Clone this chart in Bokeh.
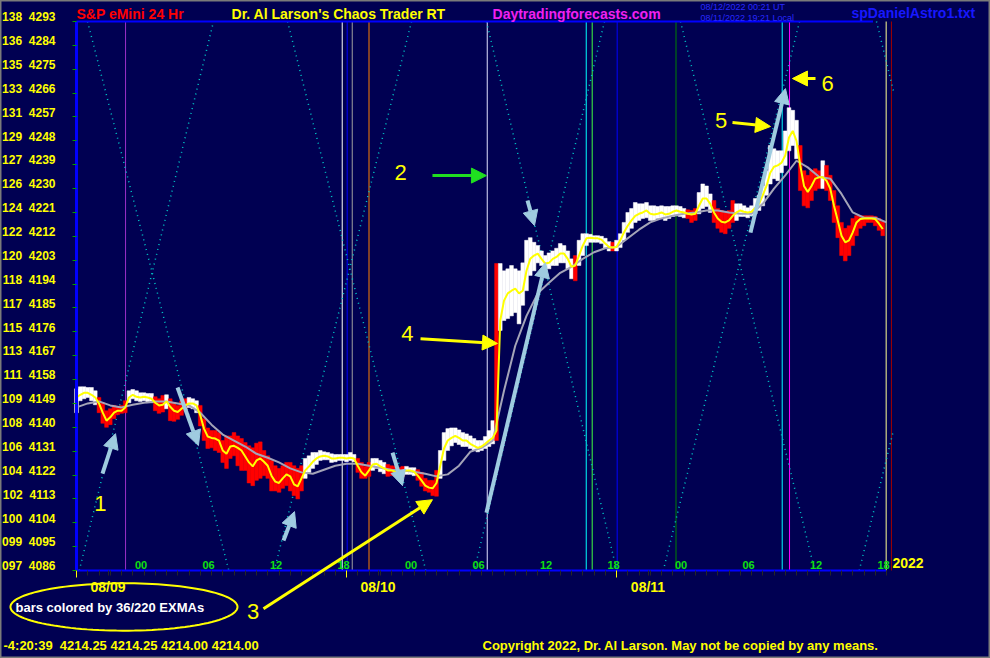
import numpy as np
from bokeh.plotting import figure
from bokeh.models import (Range1d, FixedTicker, Label, Arrow, NormalHead,
                          PolyAnnotation, CustomJSTickFormatter, ColumnDataSource)
from bokeh.core.properties import value
from bokeh.embed import file_html
from bokeh.resources import INLINE

# ------------------------------------------------------------------
# DATA
# time axis = hours after 08/09 00:00; 20-minute bars from 08/08 18:00
# ------------------------------------------------------------------
BAR_START_HOUR = -6.0
BAR_STEP_HOURS = 1.0 / 3.0

bar_high = [
    4154.5, 4155.25, 4155.25, 4155.0, 4155.0, 4153.75, 4151.25, 4149.25, 4146.25, 4147.0,
    4148.25, 4147.75, 4148.25, 4150.0, 4153.75, 4154.25, 4153.75, 4153.0, 4153.0, 4152.75,
    4152.75, 4151.5, 4150.75, 4152.0, 4152.25, 4150.75, 4149.25, 4148.25, 4150.0, 4150.75,
    4151.25, 4150.75, 4150.0, 4148.25, 4143.25, 4139.75, 4138.75, 4138.75, 4138.0, 4135.0,
    4136.75, 4136.75, 4138.0, 4136.75, 4135.75, 4134.25, 4133.0, 4132.25, 4134.0, 4134.5,
    4131.25, 4129.25, 4127.5, 4125.5, 4124.5, 4125.5, 4126.75, 4126.75, 4125.5, 4124.5,
    4125.5, 4128.25, 4129.25, 4130.5, 4130.5, 4131.25, 4130.75, 4130.5, 4130.0, 4129.75,
    4129.75, 4129.75, 4129.75, 4130.5, 4129.75, 4128.25, 4126.75, 4125.25, 4126.75, 4128.25,
    4128.25, 4127.5, 4126.75, 4126.0, 4125.5, 4125.25, 4124.75, 4125.25, 4125.25, 4124.75,
    4124.75, 4124.0, 4123.0, 4120.75, 4120.0, 4120.0, 4123.75, 4131.25, 4138.0, 4139.5,
    4139.75, 4139.75, 4139.0, 4138.0, 4137.5, 4136.75, 4135.75, 4135.0, 4135.0, 4136.5,
    4138.75, 4142.5, 4201.75, 4201.75, 4199.0, 4199.75, 4201.0, 4199.75, 4199.0, 4202.0,
    4210.5, 4211.5, 4209.75, 4208.5, 4206.5, 4204.75, 4205.75, 4206.5, 4207.5, 4209.25,
    4208.5, 4206.5, 4203.5, 4204.75, 4210.5, 4213.0, 4213.0, 4212.75, 4212.25, 4212.25,
    4212.0, 4211.25, 4210.0, 4209.75, 4210.5, 4213.0, 4217.25, 4221.0, 4222.5, 4224.75,
    4224.25, 4224.25, 4224.75, 4223.5, 4223.5, 4223.25, 4223.5, 4223.25, 4223.25, 4223.5,
    4223.5, 4223.25, 4222.5, 4222.0, 4221.75, 4222.5, 4228.5, 4231.75, 4231.0, 4228.0,
    4225.5, 4222.5, 4221.75, 4221.0, 4221.75, 4225.5, 4224.25, 4224.25, 4223.5, 4222.75,
    4223.5, 4226.25, 4227.5, 4231.0, 4236.75, 4246.25, 4245.0, 4244.25, 4244.25, 4251.75,
    4260.5, 4259.5, 4255.75, 4246.25, 4236.75, 4235.0, 4236.75, 4237.5, 4236.75, 4240.5,
    4238.75, 4235.0, 4229.25, 4223.5, 4217.25, 4215.0, 4216.0, 4218.75, 4219.75, 4219.75,
    4219.75, 4219.75, 4219.75, 4219.5, 4218.75, 4217.5,
]

bar_low = [
    4145.5, 4150.0, 4150.75, 4151.25, 4150.0, 4148.5, 4145.5, 4141.5, 4140.0, 4141.0,
    4143.25, 4144.75, 4145.25, 4145.5, 4149.25, 4150.75, 4150.0, 4149.75, 4150.0, 4149.25,
    4149.25, 4146.25, 4145.25, 4145.75, 4147.0, 4142.5, 4142.25, 4143.0, 4144.5, 4146.25,
    4147.5, 4147.0, 4145.5, 4140.5, 4135.0, 4132.0, 4132.25, 4131.25, 4130.5, 4126.75,
    4124.5, 4128.25, 4129.25, 4125.5, 4123.75, 4123.75, 4119.0, 4118.0, 4120.0, 4120.75,
    4121.75, 4120.75, 4116.0, 4116.0, 4115.5, 4117.0, 4118.0, 4116.0, 4114.25, 4113.0,
    4116.0, 4120.75, 4123.0, 4124.5, 4126.0, 4127.5, 4127.75, 4127.75, 4126.75, 4127.0,
    4127.5, 4127.5, 4127.0, 4127.5, 4127.0, 4123.0, 4120.75, 4120.75, 4121.5, 4123.75,
    4124.5, 4123.25, 4122.5, 4121.5, 4121.75, 4121.5, 4121.0, 4121.5, 4122.25, 4122.25,
    4121.75, 4120.0, 4117.75, 4116.0, 4115.5, 4114.25, 4114.0, 4120.75, 4127.5, 4131.25,
    4133.0, 4134.25, 4133.5, 4132.75, 4132.75, 4132.0, 4131.25, 4130.75, 4131.25, 4132.0,
    4132.75, 4133.75, 4135.0, 4176.5, 4180.25, 4181.0, 4182.0, 4183.25, 4179.0, 4186.0,
    4191.5, 4197.25, 4199.0, 4202.0, 4201.0, 4199.75, 4199.75, 4201.0, 4201.0, 4202.0,
    4202.0, 4199.75, 4196.0, 4195.25, 4201.0, 4204.75, 4208.5, 4209.75, 4209.75, 4209.75,
    4209.25, 4207.5, 4206.5, 4206.5, 4206.5, 4207.75, 4210.5, 4213.5, 4215.0, 4217.25,
    4218.0, 4218.75, 4219.0, 4218.0, 4218.0, 4218.75, 4218.75, 4218.0, 4218.75, 4219.5,
    4219.75, 4219.5, 4219.0, 4218.75, 4217.25, 4218.0, 4220.5, 4222.5, 4223.25, 4221.0,
    4217.25, 4215.0, 4213.5, 4213.0, 4215.0, 4217.25, 4218.0, 4219.5, 4219.5, 4219.0,
    4219.75, 4220.5, 4221.75, 4223.5, 4227.5, 4231.75, 4233.75, 4233.0, 4236.0, 4238.75,
    4244.25, 4246.25, 4241.25, 4229.25, 4223.5, 4222.75, 4225.5, 4229.25, 4230.0, 4230.0,
    4229.25, 4225.5, 4217.25, 4211.5, 4204.75, 4202.75, 4204.75, 4208.5, 4212.25, 4215.0,
    4216.0, 4217.25, 4217.25, 4216.0, 4214.25, 4212.25,
]

# 36-bar EXMA (yellow), sampled at the bar times
ema36 = [
    4151.25, 4152.25, 4153.0, 4153.0, 4152.25, 4151.25, 4149.0, 4145.5, 4142.5, 4143.75,
    4145.5, 4146.25, 4146.25, 4147.5, 4151.25, 4152.25, 4151.5, 4151.25, 4151.5, 4151.25,
    4150.75, 4149.25, 4148.25, 4148.5, 4149.75, 4147.75, 4146.25, 4145.75, 4147.0, 4148.25,
    4149.0, 4149.0, 4148.25, 4144.5, 4139.5, 4136.5, 4136.0, 4135.75, 4135.0, 4131.25,
    4130.0, 4132.75, 4133.0, 4132.25, 4131.25, 4129.0, 4126.75, 4125.25, 4127.5, 4128.25,
    4127.0, 4125.5, 4121.75, 4119.5, 4119.0, 4120.75, 4122.25, 4121.5, 4118.5, 4117.75,
    4120.75, 4123.75, 4125.25, 4127.0, 4128.25, 4129.0, 4129.25, 4129.0, 4128.25, 4128.25,
    4128.5, 4128.5, 4128.25, 4128.5, 4128.25, 4125.5, 4123.0, 4121.75, 4123.75, 4126.0,
    4126.25, 4125.25, 4124.5, 4123.75, 4123.75, 4123.25, 4123.0, 4123.25, 4123.75, 4123.75,
    4123.25, 4121.75, 4120.0, 4118.0, 4117.25, 4117.0, 4119.0, 4125.5, 4132.0, 4135.0,
    4136.0, 4136.75, 4136.0, 4135.0, 4135.0, 4133.75, 4133.0, 4132.25, 4132.75, 4133.75,
    4135.0, 4136.0, 4138.75, 4180.25, 4187.75, 4190.5, 4191.5, 4192.25, 4190.5, 4191.5,
    4199.0, 4203.5, 4204.75, 4205.5, 4203.5, 4201.75, 4202.0, 4203.5, 4204.25, 4205.5,
    4205.5, 4203.5, 4200.5, 4201.0, 4204.75, 4208.5, 4211.25, 4211.5, 4211.25, 4211.25,
    4210.75, 4209.25, 4208.0, 4207.75, 4208.0, 4210.5, 4213.5, 4216.0, 4218.0, 4219.75,
    4220.5, 4221.0, 4221.75, 4220.5, 4220.25, 4220.5, 4221.0, 4220.25, 4220.5, 4221.25,
    4221.75, 4221.25, 4221.0, 4220.5, 4220.25, 4220.5, 4223.5, 4226.25, 4226.25, 4224.25,
    4221.0, 4218.75, 4217.5, 4217.25, 4218.0, 4219.75, 4221.0, 4221.75, 4221.25, 4221.0,
    4221.25, 4222.75, 4224.25, 4227.5, 4231.0, 4236.0, 4238.25, 4238.75, 4239.75, 4242.5,
    4249.25, 4251.75, 4248.0, 4238.75, 4231.0, 4228.75, 4231.0, 4233.75, 4234.25, 4234.25,
    4233.0, 4230.0, 4223.5, 4218.0, 4212.25, 4209.75, 4210.5, 4213.5, 4217.25, 4218.5,
    4218.75, 4218.75, 4218.75, 4218.5, 4216.75, 4214.75,
]

# 220-bar EXMA (grey), read once per hour
ema220_hours = list(range(-6, 67))
ema220 = [
    4147.5, 4149.0, 4149.75, 4148.25, 4147.5, 4148.5, 4149.25, 4149.75, 4149.75, 4149.0,
    4148.25, 4145.5, 4141.0, 4137.25, 4135.0, 4132.75, 4130.0, 4128.5, 4126.75, 4124.5,
    4123.0, 4122.5, 4124.0, 4125.5, 4126.25, 4126.25, 4125.5, 4124.75, 4124.0, 4123.75,
    4123.25, 4122.5, 4121.5, 4122.25, 4125.5, 4130.75, 4132.25, 4135.0, 4153.75, 4170.75,
    4182.0, 4190.5, 4194.5, 4198.25, 4200.5, 4203.5, 4206.0, 4207.5, 4208.0, 4211.25,
    4214.5, 4217.25, 4218.75, 4219.75, 4220.5, 4221.0, 4221.75, 4221.75, 4221.0, 4220.5,
    4220.5, 4224.25, 4230.0, 4235.0, 4240.5, 4238.0, 4234.5, 4233.75, 4228.0, 4221.0,
    4219.0, 4219.0, 4217.25,
]

# price scale: left number and price
price_levels = [4086, 4095, 4104, 4113, 4122, 4131, 4140, 4149, 4158, 4167, 4176, 4185,
                4194, 4203, 4212, 4221, 4230, 4239, 4248, 4257, 4266, 4275, 4284, 4293]
level_pcts = ["097", "099", "100", "102", "104", "106", "108", "109", "111", "113", "115", "117",
              "118", "120", "122", "124", "126", "127", "129", "131", "133", "135", "136", "138"]

# time scale
hour_ticks = list(range(-6, 67))
hour_label_hours = [0, 6, 12, 18, 24, 30, 36, 42, 48, 54, 60, 66]
hour_label_text = ["00", "06", "12", "18", "00", "06", "12", "18", "00", "06", "12", "18"]
day_start_hours = [-6, 18, 42]
date_label_hours = [-3.2, 20.8, 44.8]
date_labels = ["08/09", "08/10", "08/11"]

# vertical time lines
vline_hours = [-1.64, 17.62, 18.06, 18.51, 20.0, 30.51, 39.31, 39.84, 42.06, 47.29,
               56.73, 57.38, 65.97, 66.44]
vline_colors = ["#9b30c8", "#ffffff", "#0000ff", "#a0a0a0", "#ff8000", "#e0e0ff",
                "#00ffff", "#40ff40", "#0000ff", "#008000", "#00ffff", "#ff00ff",
                "#ffff90", "#a00000"]

# dotted cycle lines (hour, price) -> (hour, price)
cycle_x0 = [-5.75, -5.02, 23.78, 12.76, 30.44, 40.93, 47.69, 58.27, 65.11, 63.58]
cycle_y0 = [4086, 4293, 4293, 4293, 4293, 4293, 4293, 4293, 4293, 4086]
cycle_x1 = [6.18, 7.54, 11.58, 25.05, 42.02, 29.36, 59.62, 46.16, 66.62, 66.62]
cycle_y1 = [4293, 4086, 4086, 4086, 4086, 4086, 4086, 4086, 4266.8, 4138.9]

# call-out numbers (hour, price, text)
callouts = [(-3.87, 4111.2, "1"), (22.8, 4236.0, "2"), (9.69, 4070.6, "3"),
            (23.42, 4175.3, "4"), (51.29, 4255.65, "5"), (60.76, 4269.8, "6")]

# arrows: (x_start, y_start, x_end, y_end, colour)
LB = "#9fcbe0"
arrows = [
    (-3.69, 4122.5, -2.53, 4137.6, LB),
    (2.98, 4155.0, 4.84, 4133.1, LB),
    (12.4, 4097.3, 13.38, 4108.2, LB),
    (22.09, 4130.45, 22.98, 4118.0, LB),
    (30.44, 4107.8, 35.69, 4202.1, LB),
    (34.09, 4225.5, 34.71, 4216.05, LB),
    (53.91, 4213.4, 57.02, 4267.7, LB),
    (10.62, 4071.6, 25.64, 4112.7, "#ffff00"),
    (24.58, 4173.4, 31.42, 4171.6, "#ffff00"),
    (52.31, 4254.9, 55.69, 4253.4, "#ffff00"),
    (59.69, 4271.5, 57.64, 4271.5, "#ffff00"),
    (25.64, 4234.9, 30.44, 4234.9, "#20e020"),
]

# ------------------------------------------------------------------
NAVY = "#000052"
BLUE = "#0000ff"
T0, T1 = -6.0, 66.62          # time span of the chart panel
P0, P1 = 4086, 4293           # price span of the chart panel
# the canvas shows the same scales a little beyond the panel (headers / footers)
X_RANGE = (-12.7556, 75.2444)
Y_RANGE = (4052.82, 4300.92)

p = figure(width=990, height=658, min_border=0,
           x_range=Range1d(*X_RANGE), y_range=Range1d(*Y_RANGE),
           output_backend="svg", toolbar_location=None)
p.title.text = ""
p.title.visible = False
p.background_fill_color = NAVY
p.border_fill_color = NAVY
p.outline_line_color = "#7a7a7a"
p.outline_line_width = 2
p.grid.visible = False

lookup_js = """
let best = ""; let bd = 1e9;
for (let i = 0; i < keys.length; i++) {
  const d = Math.abs(keys[i] - tick);
  if (d < bd) { bd = d; best = labs[i]; }
}
return bd < 1e-6 ? best : "";
"""

# ---- y axis (price scale), anchored at the panel's left edge
ylab_pos = [lv + 1.6 for lv in price_levels]
ylabs = [f"{pc}\u00a0\u00a0{lv}" for pc, lv in zip(level_pcts, price_levels)]
ya = p.yaxis[0]
ya.fixed_location = T0
ya.ticker = FixedTicker(ticks=ylab_pos, minor_ticks=price_levels)
ya.formatter = CustomJSTickFormatter(args=dict(keys=ylab_pos, labs=ylabs), code=lookup_js)
ya.axis_line_color = None
ya.major_tick_out = 0
ya.major_tick_in = 0
ya.major_tick_line_color = None
ya.minor_tick_out = 4
ya.minor_tick_in = 0
ya.minor_tick_line_color = "#00a000"
ya.major_label_standoff = 17
ya.major_label_text_color = "#ffff00"
ya.major_label_text_font = "Liberation Sans"
ya.major_label_text_font_style = "bold"
ya.major_label_text_font_size = "12px"

# ---- x axis (time scale), anchored at the panel's bottom edge
xkeys = hour_ticks + date_label_hours
xlabs = [""] * len(hour_ticks) + date_labels
xa = p.xaxis[0]
xa.fixed_location = P0
xa.ticker = FixedTicker(ticks=xkeys, minor_ticks=day_start_hours)
xa.formatter = CustomJSTickFormatter(args=dict(keys=xkeys, labs=xlabs), code=lookup_js)
xa.axis_line_color = None
xa.major_tick_out = 5
xa.major_tick_in = 0
xa.major_tick_line_color = "#262626"
xa.minor_tick_out = 7
xa.minor_tick_in = 0
xa.minor_tick_line_color = "#ffff00"
xa.major_label_standoff = 1
xa.major_label_text_color = "#ffff00"
xa.major_label_text_font = "Liberation Sans"
xa.major_label_text_font_style = "bold"
xa.major_label_text_font_size = "14px"

# ---- vertical time lines
p.segment(x0=vline_hours, y0=[P0] * len(vline_hours), x1=vline_hours, y1=[P1] * len(vline_hours),
          line_color=vline_colors, line_width=1)

# ---- dotted cycle lines
p.segment(x0=cycle_x0, y0=cycle_y0, x1=cycle_x1, y1=cycle_y1,
          line_color="#00c8c8", line_width=1.5, line_dash="1 4")

# ---- price bars coloured by the two EXMAs
bar_hours = [BAR_START_HOUR + i * BAR_STEP_HOURS for i in range(len(bar_high))]
slow_at_bar = np.interp(bar_hours, ema220_hours, ema220)
bar_colors = ["#ffffff" if f >= s else "#ff0000" for f, s in zip(ema36, slow_at_bar)]
src = ColumnDataSource(dict(x=bar_hours, top=bar_high, bottom=bar_low, c=bar_colors))
p.vbar(x="x", top="top", bottom="bottom", width=BAR_STEP_HOURS, source=src,
       fill_color="c", line_color="c", line_width=0.5)

p.line(ema220_hours, ema220, line_color="#a4a4b8", line_width=2)
p.line(bar_hours, ema36, line_color="#ffff00", line_width=2)

# ---- panel border lines (blue)
p.segment(x0=[T0, T0, T0], y0=[P0, P0, P1], x1=[T0, 65.97, 64.8], y1=[P1, P0, P1],
          line_color=BLUE, line_width=[3, 2, 2])

# ---- hour labels inside the panel
p.text(x=hour_label_hours, y=[P0] * len(hour_label_hours), text=hour_label_text,
       text_color="#10e010", text_font=value("Liberation Sans"), text_font_style="bold",
       text_font_size="11px", text_align="center", text_baseline="bottom",
       x_offset=-3, y_offset=-2)

# ---- arrows
for xs, ys, xe, ye, c in arrows:
    w = 4 if c == LB else 3
    p.add_layout(Arrow(end=NormalHead(size=15, fill_color=c, line_color=c),
                       x_start=xs, y_start=ys, x_end=xe, y_end=ye,
                       line_color=c, line_width=w))

for x, y, t in callouts:
    p.add_layout(Label(x=x, y=y, text=t, text_color="#ffff00", text_font="Liberation Sans",
                       text_font_size="22px", text_align="center", text_baseline="middle"))

# ---- header / footer texts
def txt(x, y, t, color, size, bold=True, align="left"):
    p.add_layout(Label(x=x, y=y, text=t, text_color=color, text_font="Liberation Sans",
                       text_font_style="bold" if bold else "normal", text_font_size=size,
                       text_align=align, text_baseline="middle"))

txt(-6.0, 4295.7, "S&P eMini 24 Hr", "#ff0000", "14px")
txt(7.78, 4295.7, "Dr. Al Larson's Chaos Trader RT", "#ffff00", "14px")
txt(30.98, 4295.7, "Daytradingforecasts.com", "#f020f0", "14px")
txt(49.47, 4298.5, "08/12/2022 00:21 UT", "#2828ff", "9px", bold=False)
txt(49.47, 4294.5, "08/11/2022 19:21 Local", "#2828ff", "9px", bold=False)
txt(62.89, 4296.3, "spDanielAstro1.txt", "#1818ff", "14px")
txt(66.53, 4088.9, "2022", "#ffff00", "14px")
txt(-12.49, 4057.7, "-4:20:39\u00a0\u00a04214.25 4214.25 4214.00 4214.00", "#ffff00", "13px")
txt(30.09, 4057.7, "Copyright 2022, Dr. Al Larson. May not be copied by any means.", "#ffff00", "13px")
txt(-11.42, 4072.1, "bars colored by 36/220 EXMAs", "#ffffff", "13px")

# ellipse around the note
ELL_CX, ELL_CY, ELL_A, ELL_B = -1.78, 4072.26, 10.09, 8.94
t = np.linspace(0, 2 * np.pi, 120)
p.add_layout(PolyAnnotation(xs=list(ELL_CX + ELL_A * np.cos(t)), ys=list(ELL_CY + ELL_B * np.sin(t)),
                            fill_color=None, fill_alpha=0, line_color="#ffff00",
                            line_alpha=1.0, line_width=2))

open("out.html", "w").write(file_html(p, INLINE))
